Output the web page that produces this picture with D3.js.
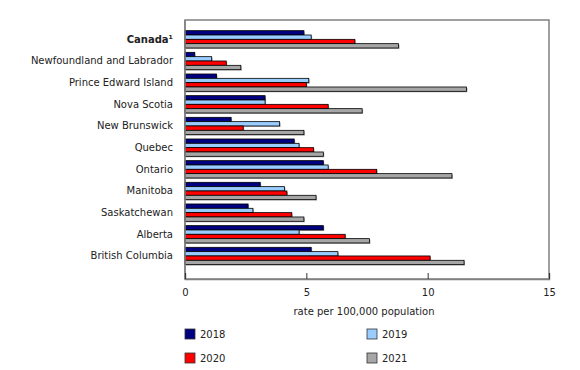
<!DOCTYPE html>
<html>
<head>
<meta charset="utf-8">
<script src="https://cdn.jsdelivr.net/npm/d3@7"></script>
<style>
  html, body { margin: 0; padding: 0; background: #fff; }
  svg { display: block; font-family: "DejaVu Sans", Verdana, sans-serif; }
</style>
</head>
<body>
<svg id="chart" width="580" height="370"></svg>
<script>
const categories = ["Canada\u00B9", "Newfoundland and Labrador", "Prince Edward Island", "Nova Scotia",
  "New Brunswick", "Quebec", "Ontario", "Manitoba", "Saskatchewan", "Alberta", "British Columbia"];
const years = ["2018", "2019", "2020", "2021"];
const values2018 = [4.9, 0.4, 1.3, 3.3, 1.9, 4.5, 5.7, 3.1, 2.6, 5.7, 5.2];
const values2019 = [5.2, 1.1, 5.1, 3.3, 3.9, 4.7, 5.9, 4.1, 2.8, 4.7, 6.3];
const values2020 = [7.0, 1.7, 5.0, 5.9, 2.4, 5.3, 7.9, 4.2, 4.4, 6.6, 10.1];
const values2021 = [8.8, 2.3, 11.6, 7.3, 4.9, 5.7, 11.0, 5.4, 4.9, 7.6, 11.5];
const xTicks = [0, 5, 10, 15];
const axisTitle = "rate per 100,000 population";
const colors = ["#000080", "#99CCFF", "#FF0000", "#A6A6A6"];

const seriesValues = [values2018, values2019, values2020, values2021];
const rows = categories.map((c, i) => ({ cat: c, vals: seriesValues.map(s => s[i]) }));

const svg = d3.select("#chart");
const plot = { left: 185, right: 549, top: 20, bottom: 279 };

const x = d3.scaleLinear().domain([0, 15]).range([plot.left, plot.right]);
const y = d3.scaleBand().domain(categories).range([28.5, 266.8]).paddingInner(0.2).paddingOuter(0.1);
const ySub = d3.scaleBand().domain(years).range([0, y.bandwidth()]);

// frame
svg.append("rect")
  .attr("x", plot.left).attr("y", plot.top)
  .attr("width", plot.right - plot.left).attr("height", plot.bottom - plot.top)
  .attr("fill", "none").attr("stroke", "#808080").attr("stroke-width", 1.5);

// bars
const g = svg.append("g");
const groups = g.selectAll("g.cat").data(rows).join("g")
  .attr("transform", d => `translate(0,${y(d.cat)})`);

// shadows
groups.selectAll("rect.shadow").data(d => d.vals.map((v, k) => ({ v, k }))).join("rect")
  .attr("class", "shadow")
  .attr("x", x(0) + 1)
  .attr("y", d => ySub(years[d.k]) + 1)
  .attr("width", d => x(d.v) - x(0))
  .attr("height", ySub.bandwidth())
  .attr("fill", "#b0b0b0");

groups.selectAll("rect.bar").data(d => d.vals.map((v, k) => ({ v, k }))).join("rect")
  .attr("class", "bar")
  .attr("x", x(0))
  .attr("y", d => ySub(years[d.k]))
  .attr("width", d => x(d.v) - x(0))
  .attr("height", ySub.bandwidth())
  .attr("fill", d => colors[d.k])
  .attr("stroke", "#000")
  .attr("stroke-width", 0.8);

// category labels
svg.append("g").selectAll("text").data(categories).join("text")
  .attr("x", 173)
  .attr("y", d => y(d) + y.bandwidth() / 2)
  .attr("dy", "0.35em")
  .attr("text-anchor", "end")
  .attr("font-size", 10)
  .attr("font-weight", (d, i) => i === 0 ? "bold" : "normal")
  .attr("fill", "#222")
  .text(d => d);

// left axis line
svg.append("line")
  .attr("x1", plot.left).attr("x2", plot.left)
  .attr("y1", plot.top).attr("y2", plot.bottom)
  .attr("stroke", "#808080").attr("stroke-width", 1.5);

// bottom axis
const xAxis = d3.axisBottom(x).tickValues(xTicks).tickSize(-6).tickPadding(10).tickFormat(d3.format("d"));
const ax = svg.append("g").attr("transform", `translate(0,${plot.bottom})`).call(xAxis);
ax.select(".domain").attr("stroke", "#808080").attr("stroke-width", 1.5);
ax.selectAll(".tick line").attr("stroke", "#333").attr("stroke-width", 1);
ax.selectAll(".tick text").attr("font-size", 10).attr("fill", "#222")
  .attr("font-family", "DejaVu Sans, Verdana, sans-serif");

// axis title
svg.append("text")
  .attr("x", 364).attr("y", 311)
  .attr("dy", "0.35em")
  .attr("text-anchor", "middle")
  .attr("font-size", 10)
  .attr("fill", "#222")
  .text(axisTitle);

// legend
const legendPos = [[185, 334], [367, 334], [185, 358], [367, 358]];
const leg = svg.append("g").selectAll("g").data(years).join("g")
  .attr("transform", (d, i) => `translate(${legendPos[i][0]},${legendPos[i][1]})`);
leg.append("rect")
  .attr("x", 0).attr("y", -5).attr("width", 10).attr("height", 10)
  .attr("fill", (d, i) => colors[i])
  .attr("stroke", "#333").attr("stroke-width", 0.8);
leg.append("text")
  .attr("x", 15).attr("y", 0).attr("dy", "0.35em")
  .attr("font-size", 10).attr("fill", "#222")
  .text(d => d);
</script>
</body>
</html>
